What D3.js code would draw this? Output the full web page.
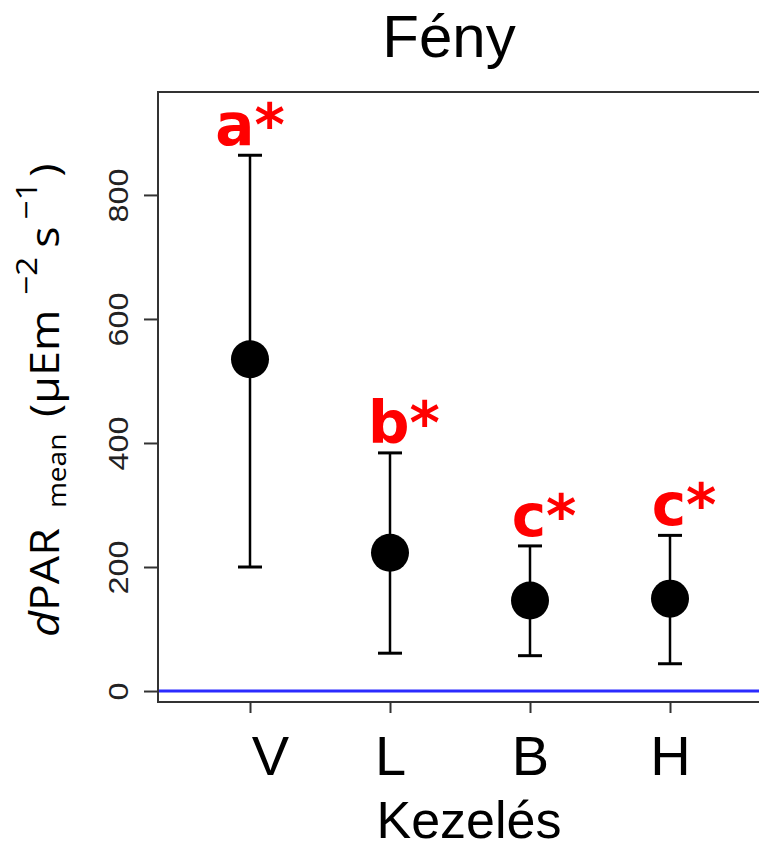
<!DOCTYPE html>
<html>
<head>
<meta charset="utf-8">
<script src="https://cdn.jsdelivr.net/npm/d3@7"></script>
<style>
  body { margin: 0; background: #fff; }
  svg { display: block; }
</style>
</head>
<body>
<svg id="chart" width="759" height="842"></svg>
<script>
// chart values
const categories = ["V", "L", "B", "H"];
const means = [535, 223, 146, 149];
const upper = [864, 384, 234, 251];
const lower = [200, 61, 57, 44];
const letters = ["a*", "b*", "c*", "c*"];
const yTicks = [0, 200, 400, 600, 800];

const svg = d3.select("#chart"),
  frame = {left: 158, right: 761, top: 92, bottom: 702},
  capW = 24,
  pointR = 19;

const x = d3.scalePoint().domain(categories).range([250, 670]);
const y = d3.scaleLinear().domain([-17.7, 966]).range([frame.bottom, frame.top]);

const data = categories.map(function (c, i) {
  return {cat: c, mean: means[i], hi: upper[i], lo: lower[i], letter: letters[i]};
});

// zero reference line
svg.append("line")
  .attr("x1", frame.left).attr("x2", frame.right)
  .attr("y1", y(0)).attr("y2", y(0))
  .attr("stroke", "#2b2bff")
  .attr("stroke-width", 3);

// box
svg.append("rect")
  .attr("x", frame.left).attr("y", frame.top)
  .attr("width", frame.right - frame.left)
  .attr("height", frame.bottom - frame.top)
  .attr("fill", "none")
  .attr("stroke", "#333")
  .attr("stroke-width", 2);

// y axis
const yAxis = svg.append("g")
  .attr("transform", "translate(" + frame.left + ",0)")
  .call(d3.axisLeft(y).tickValues(yTicks).tickSize(14).tickPadding(0).tickFormat(d3.format("d")));
yAxis.select(".domain").remove();
yAxis.selectAll(".tick line").attr("stroke", "#333").attr("stroke-width", 2);
yAxis.selectAll(".tick text")
  .attr("x", null).attr("dy", null)
  .attr("text-anchor", "middle")
  .attr("transform", "translate(-40,0) rotate(-90) scale(1.2,1)")
  .attr("dy", "0.36em")
  .style("font-family", "Liberation Sans, Arial, sans-serif")
  .style("font-size", "27px")
  .attr("fill", "#222");

// x axis
const xAxis = svg.append("g")
  .attr("transform", "translate(0," + frame.bottom + ")")
  .call(d3.axisBottom(x).tickSize(11).tickPadding(0));
xAxis.select(".domain").remove();
xAxis.selectAll(".tick line").attr("stroke", "#333").attr("stroke-width", 2);
xAxis.selectAll(".tick text")
  .attr("dy", null)
  .attr("y", 73)
  .attr("x", (d, i) => i === 0 ? 20 : 0)
  .style("font-family", "Liberation Sans, Arial, sans-serif")
  .style("font-size", "56px")
  .attr("fill", "#000");

// error bars
const bars = svg.append("g").selectAll("g").data(data).enter().append("g");
bars.append("line")
  .attr("x1", d => x(d.cat)).attr("x2", d => x(d.cat))
  .attr("y1", d => y(d.hi)).attr("y2", d => y(d.lo))
  .attr("stroke", "#000").attr("stroke-width", 2.5);
bars.append("line")
  .attr("x1", d => x(d.cat) - capW / 2).attr("x2", d => x(d.cat) + capW / 2)
  .attr("y1", d => y(d.hi)).attr("y2", d => y(d.hi))
  .attr("stroke", "#000").attr("stroke-width", 3);
bars.append("line")
  .attr("x1", d => x(d.cat) - capW / 2).attr("x2", d => x(d.cat) + capW / 2)
  .attr("y1", d => y(d.lo)).attr("y2", d => y(d.lo))
  .attr("stroke", "#000").attr("stroke-width", 3);
bars.append("circle")
  .attr("cx", d => x(d.cat)).attr("cy", d => y(d.mean))
  .attr("r", pointR)
  .attr("fill", "#000");

// significance letters
bars.append("text")
  .attr("x", (d, i) => x(d.cat) + (i === 0 ? 0 : 14))
  .attr("y", d => y(d.hi) - 10)
  .attr("text-anchor", "middle")
  .style("font-family", "DejaVu Sans, Verdana, sans-serif")
  .style("font-weight", "bold")
  .style("font-size", "58px")
  .attr("fill", "#ff0000")
  .text(d => d.letter);

// title
svg.append("text")
  .attr("x", 449).attr("y", 57)
  .attr("text-anchor", "middle")
  .style("font-family", "Liberation Sans, Arial, sans-serif")
  .style("font-size", "60px")
  .text("Fény");

// x title
svg.append("text")
  .attr("x", 469).attr("y", 838)
  .attr("text-anchor", "middle")
  .style("font-family", "Liberation Sans, Arial, sans-serif")
  .style("font-size", "52px")
  .text("Kezelés");

// y title (plotmath-like spacing, slightly wide glyphs)
const yt = svg.append("text")
  .attr("transform", "translate(59,637) rotate(-90) scale(1.12,1)")
  .attr("text-anchor", "start")
  .style("font-family", "Open Sans, Noto Sans, sans-serif")
  .style("font-size", "40px")
  .attr("fill", "#000");
yt.append("tspan").style("font-style", "italic").text("d");
yt.append("tspan").text("PAR");
yt.append("tspan").attr("dx", 18).attr("dy", 7).style("font-size", "25px").text("mean");
yt.append("tspan").attr("dx", 15).attr("dy", -7).text("(µEm");
yt.append("tspan").attr("dx", 13).attr("dy", -22).style("font-size", "30px").text("−2");
yt.append("tspan").attr("dx", 8).attr("dy", 22).text("s");
yt.append("tspan").attr("dx", 6).attr("dy", -22).style("font-size", "30px").text("−1");
yt.append("tspan").attr("dx", 4).attr("dy", 22).text(")");
</script>
</body>
</html>
